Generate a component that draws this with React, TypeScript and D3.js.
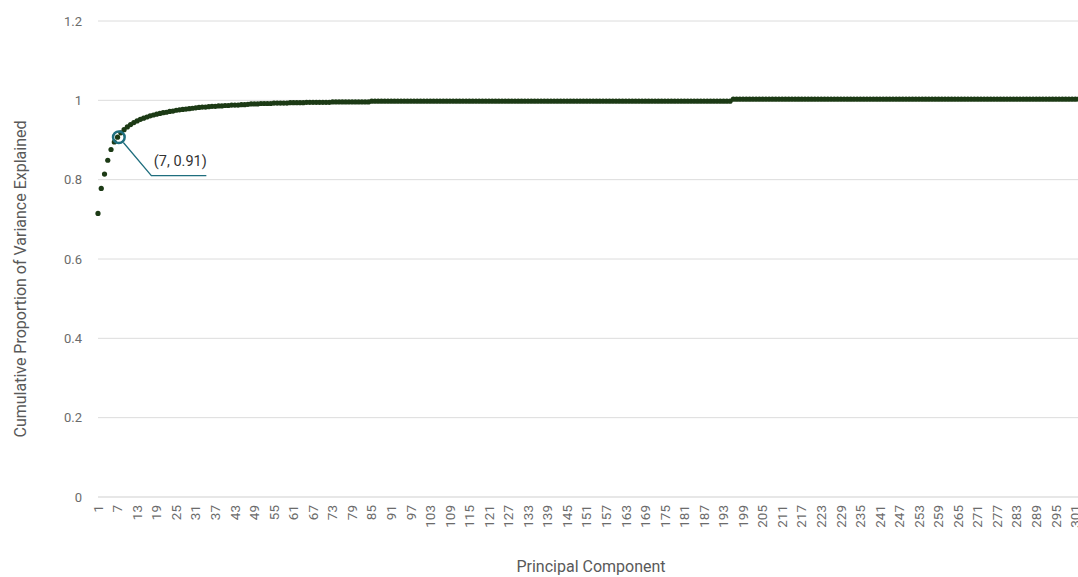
import * as d3 from 'd3';
import React, { useEffect, useRef } from 'react';

const W = 1078;
const H = 577;

// cumulative proportion of variance, components 1..60
const varianceHead = [
  0.715, 0.778, 0.814, 0.849, 0.876, 0.895, 0.907, 0.918, 0.926, 0.933,
  0.939, 0.944, 0.948, 0.952, 0.955, 0.958, 0.961, 0.963, 0.965, 0.967,
  0.969, 0.970, 0.972, 0.973, 0.975, 0.976, 0.977, 0.978, 0.979, 0.980,
  0.981, 0.982, 0.983, 0.983, 0.984, 0.985, 0.985, 0.986, 0.986, 0.987,
  0.987, 0.988, 0.988, 0.988, 0.989, 0.989, 0.990, 0.991, 0.991, 0.991,
  0.992, 0.992, 0.992, 0.992, 0.993, 0.993, 0.993, 0.993, 0.993, 0.994,
];

// components 61..195
const varianceMid = [
  0.994, 0.994, 0.994, 0.994, 0.995, 0.995, 0.995, 0.995, 0.995, 0.995,
  0.995, 0.995, 0.996, 0.996, 0.996, 0.996, 0.996, 0.996, 0.996, 0.996,
  0.996, 0.996, 0.996, 0.996, 0.998, 0.998, 0.998, 0.998, 0.998, 0.998,
  0.998, 0.998, 0.998, 0.998, 0.998, 0.998, 0.998, 0.998, 0.998, 0.998,
  0.998, 0.998, 0.998, 0.998, 0.998, 0.998, 0.998, 0.998, 0.998, 0.998,
  0.998, 0.998, 0.998, 0.998, 0.998, 0.998, 0.998, 0.998, 0.998, 0.998,
  0.998, 0.998, 0.998, 0.998, 0.998, 0.998, 0.998, 0.998, 0.998, 0.998,
  0.998, 0.998, 0.998, 0.998, 0.998, 0.998, 0.998, 0.998, 0.998, 0.998,
  0.998, 0.998, 0.998, 0.998, 0.998, 0.998, 0.998, 0.998, 0.998, 0.998,
  0.998, 0.998, 0.998, 0.998, 0.998, 0.998, 0.998, 0.998, 0.998, 0.998,
  0.998, 0.998, 0.998, 0.998, 0.998, 0.998, 0.998, 0.998, 0.998, 0.998,
  0.998, 0.998, 0.998, 0.998, 0.998, 0.998, 0.998, 0.998, 0.998, 0.998,
  0.998, 0.998, 0.998, 0.998, 0.998, 0.998, 0.998, 0.998, 0.998, 0.998,
  0.998, 0.998, 0.998, 0.998, 0.998,
];

// components 196..302
const varianceTail = [
  1.003, 1.003, 1.003, 1.003, 1.003, 1.003, 1.003, 1.003, 1.003, 1.003,
  1.003, 1.003, 1.003, 1.003, 1.003, 1.003, 1.003, 1.003, 1.003, 1.003,
  1.003, 1.003, 1.003, 1.003, 1.003, 1.003, 1.003, 1.003, 1.003, 1.003,
  1.003, 1.003, 1.003, 1.003, 1.003, 1.003, 1.003, 1.003, 1.003, 1.003,
  1.003, 1.003, 1.003, 1.003, 1.003, 1.003, 1.003, 1.003, 1.003, 1.003,
  1.003, 1.003, 1.003, 1.003, 1.003, 1.003, 1.003, 1.003, 1.003, 1.003,
  1.003, 1.003, 1.003, 1.003, 1.003, 1.003, 1.003, 1.003, 1.003, 1.003,
  1.003, 1.003, 1.003, 1.003, 1.003, 1.003, 1.003, 1.003, 1.003, 1.003,
  1.003, 1.003, 1.003, 1.003, 1.003, 1.003, 1.003, 1.003, 1.003, 1.003,
  1.003, 1.003, 1.003, 1.003, 1.003, 1.003, 1.003, 1.003, 1.003, 1.003,
  1.003, 1.003, 1.003, 1.003, 1.003, 1.003, 1.003,
];

const yTicks = [0, 0.2, 0.4, 0.6, 0.8, 1, 1.2];
const highlightComponent = 7;
const highlightLabel = '(7, 0.91)';

const FONT = 'Roboto, "Noto Sans", sans-serif';

export default function App() {
  const svgRef = useRef<SVGSVGElement>(null);

  useEffect(() => {
    const values = [...varianceHead, ...varianceMid, ...varianceTail];
    const data = values.map((v, i) => ({ pc: i + 1, value: v }));
    const components = data.map(d => String(d.pc));
    const xLabels = components.filter((_, i) => i % 6 === 0);

    const svg = d3.select(svgRef.current);
    svg.selectAll('*').remove();

    const plotLeft = 98;
    const step = 3.258;
    const x = d3.scalePoint<string>()
      .domain(components)
      .range([plotLeft, plotLeft + step * (components.length - 1)]);
    const y = d3.scaleLinear().domain([0, 1.2]).range([497, 21]);

    // gridlines
    svg.append('g')
      .selectAll('line')
      .data(yTicks)
      .join('line')
      .attr('x1', plotLeft)
      .attr('x2', W)
      .attr('y1', d => y(d))
      .attr('y2', d => y(d))
      .attr('stroke', d => (d === 0 ? '#cfcfcf' : '#dcdcdc'))
      .attr('stroke-width', 1);

    // y tick labels
    svg.append('g')
      .selectAll('text')
      .data(yTicks)
      .join('text')
      .attr('x', 82)
      .attr('y', d => y(d))
      .attr('dy', '0.35em')
      .attr('text-anchor', 'end')
      .attr('font-family', FONT)
      .attr('font-size', 13)
      .attr('fill', '#6b6b6b')
      .text(d => `${d}`);

    // x tick labels, rotated
    svg.append('g')
      .selectAll('text')
      .data(xLabels)
      .join('text')
      .attr('transform', d => `translate(${x(d)}, 505) rotate(-90)`)
      .attr('dy', '0.35em')
      .attr('text-anchor', 'end')
      .attr('font-family', FONT)
      .attr('font-size', 13.5)
      .attr('fill', '#6b6b6b')
      .text(d => d);

    // dots
    svg.append('g')
      .selectAll('circle')
      .data(data)
      .join('circle')
      .attr('cx', d => x(String(d.pc))!)
      .attr('cy', d => y(d.value))
      .attr('r', 2.6)
      .attr('fill', '#1c3a15');

    // annotation
    const hl = data[highlightComponent - 1];
    const hx = x(String(hl.pc))! + 1.3;
    const hy = y(hl.value);
    const teal = '#1f6e7e';
    const ann = svg.append('g');
    ann.append('circle')
      .attr('cx', hx)
      .attr('cy', hy)
      .attr('r', 5.8)
      .attr('fill', 'none')
      .attr('stroke', teal)
      .attr('stroke-width', 2.5);
    ann.append('polyline')
      .attr('points', `${hx + 4.5},${hy + 5.3} ${hx + 32.5},${hy + 38.5} ${hx + 87.5},${hy + 38.5}`)
      .attr('fill', 'none')
      .attr('stroke', teal)
      .attr('stroke-width', 1.3);
    ann.append('text')
      .attr('x', hx + 35)
      .attr('y', hy + 28.5)
      .attr('font-family', FONT)
      .attr('font-size', 14.5)
      .attr('fill', '#333')
      .text(highlightLabel);

    // axis titles
    svg.append('text')
      .attr('transform', 'translate(20.5, 279) rotate(-90)')
      .attr('dy', '0.35em')
      .attr('text-anchor', 'middle')
      .attr('font-family', FONT)
      .attr('font-size', 16)
      .attr('fill', '#595959')
      .text('Cumulative Proportion of Variance Explained');

    svg.append('text')
      .attr('x', 591)
      .attr('y', 566)
      .attr('dy', '0.35em')
      .attr('text-anchor', 'middle')
      .attr('font-family', FONT)
      .attr('font-size', 16)
      .attr('fill', '#595959')
      .text('Principal Component');
  }, []);

  return (
    <svg
      ref={svgRef}
      width={W}
      height={H}
      style={{ position: 'absolute', left: 0, top: 0, background: '#fff' }}
    />
  );
}
